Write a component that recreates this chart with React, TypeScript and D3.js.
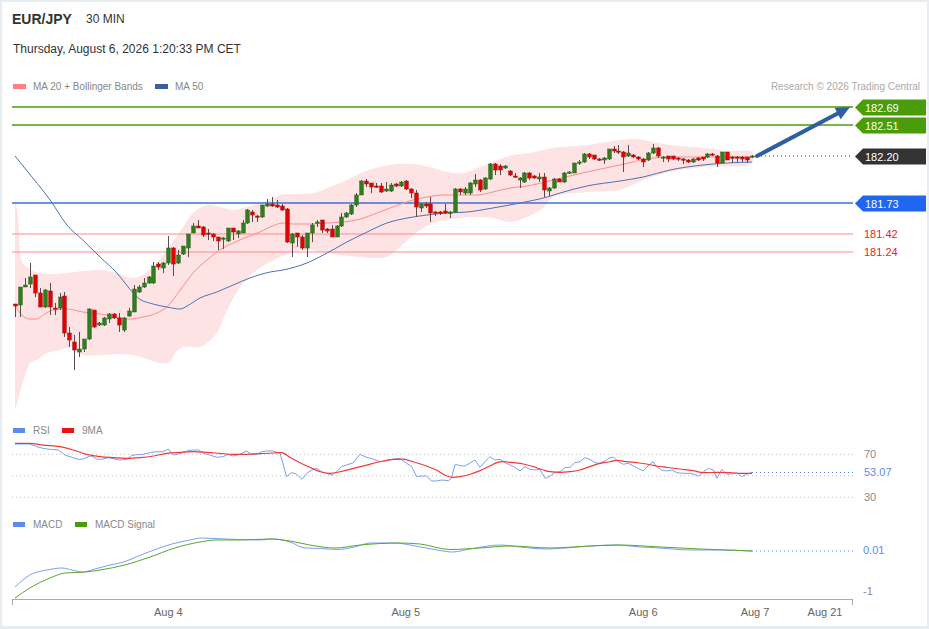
import React from 'react';
import * as d3 from 'd3';

// ---------- DATA ----------
const START = new Date(2026, 7, 3, 8, 30);
const STEP_MS = 30 * 60 * 1000;

// 30-min candles: [open, high, low, close]
const candles: [number, number, number, number][] = [
  [180.72,180.72,180.59,180.70],[180.71,180.89,180.59,180.89],[180.89,180.98,180.89,180.91],[180.92,181.13,180.88,180.99],
  [181.01,181.01,180.79,180.83],[180.83,180.88,180.69,180.69],[180.69,180.87,180.68,180.86],[180.85,180.93,180.61,180.69],
  [180.68,180.73,180.61,180.67],[180.68,180.83,180.66,180.79],[180.80,180.84,180.39,180.43],[180.43,180.49,180.29,180.36],
  [180.34,180.41,180.06,180.26],[180.24,180.44,180.19,180.27],[180.27,180.37,180.24,180.37],[180.37,180.68,180.36,180.67],
  [180.66,180.66,180.48,180.49],[180.51,180.54,180.50,180.53],[180.51,180.59,180.50,180.58],[180.57,180.63,180.53,180.62],
  [180.62,180.63,180.57,180.58],[180.58,180.63,180.44,180.51],[180.46,180.59,180.44,180.58],[180.60,180.68,180.59,180.65],
  [180.64,180.91,180.64,180.87],[180.84,180.91,180.83,180.89],[180.89,180.98,180.88,180.93],[180.93,181.00,180.92,180.99],
  [180.93,181.14,180.92,181.10],[181.12,181.14,181.06,181.09],[181.08,181.14,181.03,181.13],[181.13,181.40,181.11,181.28],
  [181.28,181.29,181.00,181.12],[181.13,181.26,181.12,181.21],[181.22,181.30,181.21,181.30],[181.28,181.42,181.19,181.42],
  [181.43,181.53,181.43,181.50],[181.50,181.56,181.48,181.48],[181.49,181.50,181.39,181.41],[181.43,181.47,181.36,181.42],
  [181.42,181.43,181.35,181.39],[181.39,181.39,181.26,181.35],[181.37,181.39,181.27,181.38],[181.35,181.48,181.34,181.48],
  [181.48,181.48,181.36,181.44],[181.42,181.46,181.38,181.45],[181.43,181.56,181.43,181.53],[181.53,181.67,181.52,181.66],
  [181.64,181.66,181.54,181.61],[181.60,181.61,181.54,181.59],[181.59,181.71,181.58,181.71],[181.70,181.77,181.69,181.72],
  [181.72,181.79,181.69,181.70],[181.71,181.76,181.68,181.69],[181.70,181.72,181.65,181.66],[181.67,181.68,181.33,181.34],
  [181.33,181.43,181.19,181.42],[181.43,181.43,181.29,181.39],[181.39,181.41,181.26,181.28],[181.28,181.43,181.19,181.43],
  [181.43,181.53,181.34,181.51],[181.53,181.56,181.49,181.54],[181.56,181.56,181.43,181.46],[181.47,181.48,181.43,181.45],
  [181.47,181.51,181.39,181.39],[181.39,181.51,181.39,181.50],[181.50,181.63,181.49,181.59],[181.59,181.64,181.58,181.63],
  [181.62,181.72,181.61,181.71],[181.71,181.83,181.69,181.81],[181.81,181.96,181.81,181.95],[181.95,181.97,181.89,181.92],
  [181.93,181.93,181.83,181.89],[181.90,181.93,181.88,181.89],[181.90,181.93,181.83,181.84],[181.85,181.94,181.84,181.87],
  [181.85,181.93,181.84,181.91],[181.92,181.93,181.89,181.90],[181.90,181.95,181.89,181.94],[181.95,181.96,181.86,181.87],
  [181.87,181.88,181.78,181.83],[181.83,181.86,181.59,181.69],[181.68,181.73,181.64,181.72],[181.72,181.74,181.68,181.70],
  [181.72,181.79,181.54,181.63],[181.64,181.65,181.60,181.63],[181.64,181.65,181.61,181.63],[181.65,181.72,181.62,181.63],
  [181.63,181.65,181.58,181.64],[181.64,181.88,181.63,181.87],[181.87,181.88,181.81,181.84],[181.83,181.89,181.81,181.87],
  [181.83,181.94,181.81,181.93],[181.92,182.02,181.89,181.96],[181.96,181.97,181.84,181.86],[181.87,181.99,181.86,181.98],
  [181.97,182.13,181.96,182.12],[182.12,182.13,182.01,182.06],[182.10,182.12,182.01,182.06],[182.08,182.11,182.07,182.10],
  [182.05,182.06,182.00,182.01],[182.00,182.03,181.98,181.99],[181.96,181.99,181.88,181.98],[181.94,182.04,181.93,182.03],
  [182.03,182.04,181.96,181.98],[182.00,182.01,181.97,181.98],[181.97,182.03,181.94,181.99],[181.99,182.03,181.79,181.86],
  [181.85,181.89,181.80,181.88],[181.88,181.98,181.87,181.97],[181.97,181.98,181.94,181.94],[181.94,182.04,181.93,182.03],
  [182.03,182.05,182.02,182.04],[182.03,182.13,182.03,182.13],[182.13,182.16,182.11,182.14],[182.14,182.23,182.13,182.22],
  [182.22,182.23,182.17,182.19],[182.21,182.21,182.16,182.17],[182.17,182.18,182.15,182.16],[182.16,182.19,182.12,182.18],
  [182.17,182.27,182.16,182.27],[182.27,182.30,182.23,182.25],[182.25,182.31,182.22,182.24],[182.24,182.25,182.04,182.19],
  [182.20,182.31,182.19,182.23],[182.21,182.22,182.18,182.19],[182.19,182.20,182.16,182.17],[182.17,182.18,182.09,182.14],
  [182.16,182.24,182.15,182.23],[182.23,182.32,182.22,182.28],[182.28,182.29,182.18,182.20],[182.18,182.20,182.14,182.19],
  [182.20,182.20,182.14,182.17],[182.20,182.20,182.16,182.17],[182.18,182.19,182.15,182.17],[182.17,182.18,182.12,182.16],
  [182.16,182.17,182.13,182.14],[182.14,182.18,182.13,182.17],[182.18,182.19,182.15,182.16],[182.19,182.19,182.15,182.17],
  [182.19,182.23,182.18,182.22],[182.22,182.23,182.20,182.21],[182.20,182.21,182.09,182.13],[182.13,182.24,182.13,182.24],
  [182.24,182.24,182.16,182.16],[182.19,182.20,182.13,182.18],[182.19,182.20,182.14,182.18],[182.19,182.20,182.14,182.17],
  [182.19,182.19,182.13,182.16],[182.19,182.21,182.18,182.20],
];

// indicator readings: [candle index, value]
const ma20: [number, number][] = [
  [0,180.71],[1,180.63],[3,180.57],[4.4,180.57],[5.7,180.61],[7.7,180.66],[10.5,180.67],[13.7,180.64],[17.2,180.62],
  [20.6,180.59],[23.3,180.57],[25.9,180.59],[28.7,180.63],[30.7,180.69],[33.4,180.86],[36,181.03],[38.8,181.16],
  [41.4,181.26],[44.1,181.33],[46.9,181.39],[49.5,181.44],[51.6,181.49],[54.2,181.53],[56.2,181.52],[59.6,181.52],
  [63.1,181.53],[66.3,181.54],[69.8,181.57],[73.2,181.63],[76.4,181.69],[80.5,181.76],[83.3,181.79],[86.5,181.81],
  [93.4,181.81],[96.6,181.84],[100.1,181.88],[103.5,181.90],[108.8,181.96],[115.6,182.04],[122.3,182.11],
  [129,182.18],[132.4,182.19],[139.1,182.19],[149,182.19],
];
const ma50: [number, number][] = [
  [0,182.20],[3.6,181.98],[7.1,181.76],[10.5,181.51],[13.7,181.36],[17.2,181.19],[20.6,181.03],[23.9,180.83],
  [24.9,180.78],[27.9,180.72],[30.7,180.69],[33.4,180.67],[34.8,180.70],[37.4,180.78],[40.8,180.84],[44.1,180.91],
  [47.5,180.98],[51.6,181.04],[54.2,181.06],[59,181.13],[63.1,181.23],[67.1,181.34],[71.2,181.44],[75.2,181.53],
  [79.3,181.58],[83.3,181.61],[87.3,181.63],[91.4,181.64],[96.6,181.68],[102.1,181.73],[107.6,181.79],[110.2,181.83],
  [115.6,181.90],[122.3,181.95],[127,181.99],[132.4,182.06],[139.1,182.11],[143.9,182.13],[149,182.14],
];
const bbUpper: [number, number][] = [
  [0,181.76],[0.6,181.61],[1.4,181.14],[2.4,181.09],[3.6,181.05],[7.1,181.02],[10.5,181.03],[13.7,181.05],[17.2,181.06],
  [20.6,181.03],[23.9,180.98],[27.3,181.06],[30.7,181.26],[34,181.49],[36,181.63],[38.8,181.71],[41.4,181.69],
  [44.1,181.66],[46.9,181.69],[49.5,181.73],[51.6,181.76],[53.6,181.81],[57.6,181.82],[60.3,181.83],[63.7,181.89],
  [67.1,181.96],[70.4,182.04],[73.8,182.09],[77.2,182.12],[80.5,182.12],[83.9,182.09],[87.3,182.04],[90.6,182.03],
  [94,182.09],[97.5,182.16],[100.7,182.21],[104.1,182.23],[108.8,182.28],[115.6,182.31],[122.3,182.36],[125.8,182.37],
  [129,182.34],[132.4,182.31],[139.1,182.28],[144.6,182.25],[149,182.24],
];
const bbLower: [number, number][] = [
  [0,179.66],[0.6,179.76],[1.4,179.91],[2.4,180.06],[3,180.13],[4.4,180.16],[6.5,180.23],[9.1,180.26],[11.1,180.29],
  [13.7,180.21],[17.2,180.21],[20.6,180.22],[23.9,180.21],[27.3,180.16],[29.3,180.13],[31.3,180.14],[32.3,180.23],
  [34,180.29],[37.4,180.29],[38.8,180.33],[40.8,180.43],[42.9,180.66],[46.1,180.93],[49.5,181.08],[51.6,181.14],
  [53.6,181.19],[56.2,181.24],[59.6,181.26],[63.1,181.23],[69.8,181.19],[73.2,181.18],[75.2,181.19],[77.8,181.29],
  [79.9,181.38],[81.9,181.46],[84.5,181.53],[87.3,181.56],[90,181.58],[92.6,181.59],[96.6,181.58],[100.1,181.54],
  [103.5,181.59],[106.8,181.68],[108.8,181.79],[115.6,181.84],[122.3,181.86],[127,181.96],[132.4,182.04],
  [139.1,182.09],[149,182.13],
];
const rsi: [number, number][] = [
  [0,79.6],[3,79.6],[4.4,77.1],[5.7,75.5],[7.1,74.6],[8.8,74.0],[10.1,69.3],[11.5,67.2],[12.8,65.3],[13.8,65.6],
  [14.8,67.8],[15.5,68.4],[16.5,65.6],[17.5,65.3],[18.9,66.9],[20.2,65.6],[21.2,64.7],[22.6,65.3],[23.6,69.0],
  [24.6,69.6],[25.9,70.0],[27.3,71.5],[28.6,72.4],[30,72.4],[31,74.9],[32,69.3],[33,70.3],[34,71.8],[35,73.4],
  [36.1,74.0],[37.1,74.0],[38.1,70.9],[39.4,69.3],[40.8,67.2],[42.1,67.8],[43.1,70.0],[44.1,68.4],[45.5,70.0],
  [46.8,73.1],[47.8,70.0],[48.9,70.0],[49.9,72.4],[50.9,73.1],[52.2,73.1],[53.6,70.9],[54.9,49.2],[55.9,52.9],
  [56.9,51.7],[58,46.7],[59,52.3],[60,55.4],[61,56.9],[62,53.8],[63,52.3],[64,50.7],[65,53.8],[66,58.5],[67,60.0],
  [68.4,62.2],[69.7,70.0],[71.1,67.2],[72.4,65.6],[73.8,63.1],[75.1,64.1],[76.5,65.6],[77.8,66.2],[79.2,61.6],
  [80.2,58.5],[81.2,49.2],[82.2,49.8],[83.2,49.8],[84.2,45.2],[85.2,45.2],[86.3,46.1],[87.6,45.5],[88.2,47.6],
  [89,60.7],[90,59.4],[91,59.1],[93,64.7],[94,57.9],[95,63.1],[96,67.8],[97,64.7],[98.1,65.3],[99.1,62.2],
  [100.8,58.5],[102.1,54.5],[103.1,58.5],[104.1,56.0],[105.1,55.4],[106.1,56.0],[107.2,47.6],[108.2,49.8],
  [109.2,53.2],[110.2,53.8],[111.2,57.6],[112.2,57.9],[113.2,62.2],[114.2,63.1],[115.2,66.9],[116.2,65.3],
  [117.3,62.2],[118.3,61.6],[119.3,64.1],[120.3,66.9],[121,67.2],[122,63.1],[123,60.7],[124,61.6],[125,59.1],
  [126,56.9],[127,54.5],[128,59.4],[129,63.1],[129.7,58.5],[130.7,55.4],[131.7,54.5],[132.8,55.4],[133.8,52.9],
  [135.1,52.3],[136.5,52.3],[138.2,49.8],[139.2,53.8],[140.2,56.9],[141.2,55.4],[141.9,47.6],[142.9,56.0],
  [143.9,51.4],[144.9,51.7],[145.9,52.9],[146.9,49.2],[147.9,51.4],[149,53.07],
];
const rsiMa: [number, number][] = [
  [0,80.2],[3,80.2],[5.7,78.6],[9.1,77.1],[11.8,74.0],[14.5,70.0],[17.2,67.8],[19.9,66.9],[22.6,66.2],[25.3,66.9],
  [28,68.4],[30.7,70.9],[33.4,71.8],[36.1,72.4],[38.7,71.8],[41.4,70.9],[44.1,70.0],[46.8,70.0],[49.5,70.6],
  [52.2,71.2],[53.9,71.5],[55.6,67.2],[57.6,62.2],[59.6,57.9],[61.7,53.8],[63.7,52.3],[65.7,53.8],[68.4,56.9],
  [71.1,60.0],[73.8,63.1],[76.5,65.3],[78.5,65.6],[80.5,63.1],[83.2,59.1],[85.2,55.4],[87.3,49.8],[88.5,48.6],
  [90,49.2],[92,51.4],[94,54.8],[96,59.1],[97.4,62.2],[98.7,63.1],[100.8,62.2],[102.8,61.0],[104.8,58.5],
  [106.8,55.4],[108.2,53.8],[110.2,53.2],[112.2,53.8],[114.2,55.4],[116.2,58.5],[118.3,61.6],[120.3,63.1],
  [121.6,64.4],[123.7,63.1],[125.7,62.2],[127.7,61.0],[129.7,59.1],[131.7,57.9],[134.4,56.3],[137.1,54.8],
  [139.2,52.9],[141.9,53.2],[144.6,52.9],[146.6,52.3],[149,52.3],
];
const macd: [number, number][] = [
  [0,-0.877],[3,-0.581],[6.5,-0.458],[9.5,-0.409],[11.5,-0.458],[13.7,-0.507],[16.2,-0.433],[19.2,-0.335],
  [22,-0.261],[24.5,-0.138],[28.1,0.035],[31.7,0.182],[35.4,0.281],[37.6,0.330],[42.5,0.306],[49.5,0.281],
  [52,0.306],[55.6,0.232],[58.6,0.084],[61.7,0.072],[65.1,0.047],[68.7,0.109],[71.8,0.207],[76.8,0.207],
  [79.9,0.158],[85.9,0.022],[88.4,-0.015],[92,0.059],[98.1,0.158],[102.1,0.109],[107.2,0.059],[111.2,0.084],
  [116.3,0.133],[121.3,0.158],[126.4,0.109],[130.4,0.084],[136.5,0.035],[142.5,0.035],[149,0.01],
];
const macdSignal: [number, number][] = [
  [0,-1.148],[3,-0.901],[7.1,-0.655],[10.1,-0.532],[14.2,-0.507],[17.2,-0.458],[22.2,-0.335],[27.3,-0.138],
  [32.3,0.084],[37.4,0.232],[40.4,0.281],[45.5,0.281],[51.6,0.306],[55.6,0.256],[59.6,0.158],[64.7,0.084],
  [69.8,0.158],[77.8,0.207],[81.9,0.182],[87.9,0.047],[94,0.084],[100.1,0.133],[108.2,0.084],[116.3,0.133],
  [122.3,0.158],[130.4,0.109],[138.5,0.059],[149,0.01],
];

const resistanceLevels = [182.69, 182.51];
const lastPrice = 182.2;
const pivotLevel = 181.73;
const supportLevels = [181.42, 181.24];
const arrowTarget = 182.69;
const rsiGrid = [70, 50, 30];
const rsiLabels = [70, 30];
const rsiLast = 53.07;
const macdLabels: [number, string][] = [[0.01, '0.01'], [-1, '-1']];
const macdLast = 0.01;
const axisTicks: [Date, string][] = [
  [new Date(2026, 7, 4), 'Aug 4'],
  [new Date(2026, 7, 5), 'Aug 5'],
  [new Date(2026, 7, 6), 'Aug 6'],
  [new Date(2026, 7, 7), 'Aug 7'],
  [new Date(2026, 7, 21), 'Aug 21'],
];

// ---------- CHART ----------
const FONT = '"Liberation Sans", Arial, Helvetica, sans-serif';
const W = 929;
const H = 629;
const PL = 12;
const PR = 853;

export default function App() {
  const tAt = (i: number) => new Date(START.getTime() + i * STEP_MS);
  const lastIdx = candles.length - 1;
  const x = d3
    .scaleTime()
    .domain([START, tAt(lastIdx), axisTicks[3][0], axisTicks[4][0]])
    .range([15, 752, 755, 825]);
  const xi = (i: number) => x(tAt(i));
  const yP = d3.scaleLinear().domain([179.5, 182.8]).range([426, 96]);
  const yR = d3.scaleLinear().domain([30, 70]).range([497.3, 454.3]);
  const yM = d3.scaleLinear().domain([-1, 0.01]).range([592, 551]);

  const lineP = d3.line<[number, number]>().x((d) => xi(d[0])).y((d) => yP(d[1])).curve(d3.curveMonotoneX);
  const lineR = d3.line<[number, number]>().x((d) => xi(d[0])).y((d) => yR(d[1]));
  const lineRs = d3.line<[number, number]>().x((d) => xi(d[0])).y((d) => yR(d[1])).curve(d3.curveMonotoneX);
  const lineM = d3.line<[number, number]>().x((d) => xi(d[0])).y((d) => yM(d[1])).curve(d3.curveMonotoneX);
  const bandLine = d3.line<[number, number]>().x((d) => xi(d[0])).y((d) => yP(d[1])).curve(d3.curveCatmullRom);
  const bandPath =
    (bandLine([...bbUpper, ...[...bbLower].reverse()]) || '') + 'Z';

  const bw = 3.6;
  const lastX = xi(lastIdx);

  const tag = (v: number, fill: string) => {
    const y = Math.round(yP(v)) + 0.5;
    const d = `M855,${y} L863,${y - 8} L926,${y - 8} L926,${y + 8} L863,${y + 8} Z`;
    return (
      <g key={'tag' + v}>
        <path d={d} fill={fill} />
        <text x={865} y={y + 4} fill="#fff" fontSize={11}>
          {v.toFixed(2)}
        </text>
      </g>
    );
  };

  // arrow
  const ax0 = lastX + 5;
  const ay0 = yP(lastPrice);
  const ax1 = 850;
  const ay1 = yP(arrowTarget);
  const ang = Math.atan2(ay1 - ay0, ax1 - ax0);
  const hl = 14;
  const hw = 6.5;
  const bx = ax1 - hl * Math.cos(ang);
  const by = ay1 - hl * Math.sin(ang);
  const px = -Math.sin(ang);
  const py = Math.cos(ang);

  return (
    <svg
      width={W}
      height={H}
      style={{ position: 'absolute', left: 0, top: 0, fontFamily: FONT }}
    >
      <rect x={0} y={0} width={W} height={H} fill="#e8edf1" />
      <rect x={2} y={2} width={W - 4} height={H - 5} fill="#fff" />

      {/* header */}
      <text x={12} y={24} fontSize={14} fontWeight="bold" fill="#333">EUR/JPY</text>
      <text x={86} y={23} fontSize={12} fill="#333">30 MIN</text>
      <text x={13} y={53} fontSize={12} fill="#333">Thursday, August 6, 2026 1:20:33 PM CET</text>

      {/* legend */}
      <rect x={13} y={84} width={13} height={5} fill="#ff8080" />
      <text x={33} y={90} fontSize={10} fill="#888">MA 20 + Bollinger Bands</text>
      <rect x={155} y={84} width={13} height={5} fill="#3d5f9e" />
      <text x={175} y={90} fontSize={10} fill="#888">MA 50</text>
      <text x={920} y={90} fontSize={10} fill="#aaa" textAnchor="end">Research © 2026 Trading Central</text>

      {/* bollinger band */}
      <path d={bandPath} fill="#fde3e3" />

      {/* levels */}
      {resistanceLevels.map((v) => (
        <line key={'r' + v} x1={PL} x2={PR} y1={yP(v)} y2={yP(v)} stroke="#4a9c0b" strokeWidth={1.6} />
      ))}
      <line x1={PL} x2={PR} y1={yP(pivotLevel)} y2={yP(pivotLevel)} stroke="#3c6fdc" strokeWidth={1.4} />
      {supportLevels.map((v) => (
        <line key={'s' + v} x1={PL} x2={PR} y1={yP(v)} y2={yP(v)} stroke="#ff8a8a" strokeWidth={1.2} />
      ))}
      <line x1={lastX + 5} x2={PR} y1={yP(lastPrice)} y2={yP(lastPrice)} stroke="#333" strokeWidth={1} strokeDasharray="1,3" />

      {/* moving averages */}
      <path d={lineP(ma20) || ''} fill="none" stroke="#ff8c8c" strokeWidth={1} />
      <path d={lineP(ma50) || ''} fill="none" stroke="#4d72b3" strokeWidth={1} />

      {/* candles */}
      {candles.map((c, i) => {
        const [o, h, l, cl] = c;
        const cx = Math.round(xi(i)) + 0.5;
        const up = cl >= o;
        const top = yP(Math.max(o, cl));
        const bot = yP(Math.min(o, cl));
        return (
          <g key={i}>
            <line x1={cx} x2={cx} y1={yP(Math.max(h, o, cl))} y2={yP(Math.min(l, o, cl))} stroke="#5d4b4b" strokeWidth={1} />
            <rect
              x={cx - bw / 2}
              y={top}
              width={bw}
              height={Math.max(1.2, bot - top)}
              fill={up ? '#2f7d1f' : '#e30000'}
              stroke={up ? '#245f18' : '#9a1010'}
              strokeWidth={0.5}
            />
          </g>
        );
      })}

      {/* arrow */}
      <line x1={ax0} y1={ay0} x2={bx} y2={by} stroke="#2f5fa3" strokeWidth={4} strokeLinecap="round" />
      <path
        d={`M${ax1},${ay1} L${bx + px * hw},${by + py * hw} L${bx - px * hw},${by - py * hw} Z`}
        fill="#2f5fa3"
      />

      {/* tags */}
      {resistanceLevels.map((v) => tag(v, '#4a9c0b'))}
      {tag(lastPrice, '#333')}
      {tag(pivotLevel, '#1f66f2')}
      {supportLevels.map((v) => (
        <text key={'sl' + v} x={864} y={yP(v) + 4} fontSize={11} fill="#e8231f">
          {v.toFixed(2)}
        </text>
      ))}

      {/* RSI panel */}
      <rect x={13} y={428} width={12} height={5} fill="#5b8def" />
      <text x={33} y={434} fontSize={10} fill="#888">RSI</text>
      <rect x={62} y={428} width={12} height={5} fill="#ee1111" />
      <text x={82} y={434} fontSize={10} fill="#888">9MA</text>
      {rsiGrid.map((v) => (
        <line key={'g' + v} x1={PL} x2={PR} y1={yR(v)} y2={yR(v)} stroke="#bbb" strokeWidth={1} strokeDasharray="1,3" />
      ))}
      {rsiLabels.map((v) => (
        <text key={'rl' + v} x={864} y={yR(v) + 4} fontSize={11} fill="#888">{v}</text>
      ))}
      <line x1={lastX} x2={PR} y1={yR(rsiLast)} y2={yR(rsiLast)} stroke="#5b8def" strokeWidth={1} strokeDasharray="1,3" />
      <text x={864} y={yR(rsiLast) + 4} fontSize={11} fill="#5b8def">{rsiLast.toFixed(2)}</text>
      <path d={lineR(rsi) || ''} fill="none" stroke="#7c9ff0" strokeWidth={1} />
      <path d={lineRs(rsiMa) || ''} fill="none" stroke="#f03a3a" strokeWidth={1.2} />

      {/* MACD panel */}
      <rect x={13} y={522} width={12} height={5} fill="#5b8def" />
      <text x={33} y={528} fontSize={10} fill="#888">MACD</text>
      <rect x={75} y={522} width={12} height={5} fill="#4a9c0b" />
      <text x={95} y={528} fontSize={10} fill="#888">MACD Signal</text>
      <line x1={lastX} x2={PR} y1={yM(macdLast)} y2={yM(macdLast)} stroke="#5b8def" strokeWidth={1} strokeDasharray="1,3" />
      {macdLabels.map(([v, s]) => (
        <text key={'ml' + s} x={863} y={yM(v) + 3} fontSize={11} fill={v === macdLast ? '#5b8def' : '#888'}>{s}</text>
      ))}
      <path d={lineM(macd) || ''} fill="none" stroke="#7c9ff0" strokeWidth={1} />
      <path d={lineM(macdSignal) || ''} fill="none" stroke="#5aa62a" strokeWidth={1} />

      {/* time axis */}
      <line x1={PL} x2={PR} y1={599.5} y2={599.5} stroke="#aaa" strokeWidth={1} />
      <line x1={PL + 0.5} x2={PL + 0.5} y1={599.5} y2={605} stroke="#aaa" strokeWidth={1} />
      <line x1={PR - 0.5} x2={PR - 0.5} y1={599.5} y2={605} stroke="#aaa" strokeWidth={1} />
      {axisTicks.map(([d, s]) => (
        <text key={s} x={x(d)} y={616} fontSize={11} fill="#666" textAnchor="middle">{s}</text>
      ))}
    </svg>
  );
}
